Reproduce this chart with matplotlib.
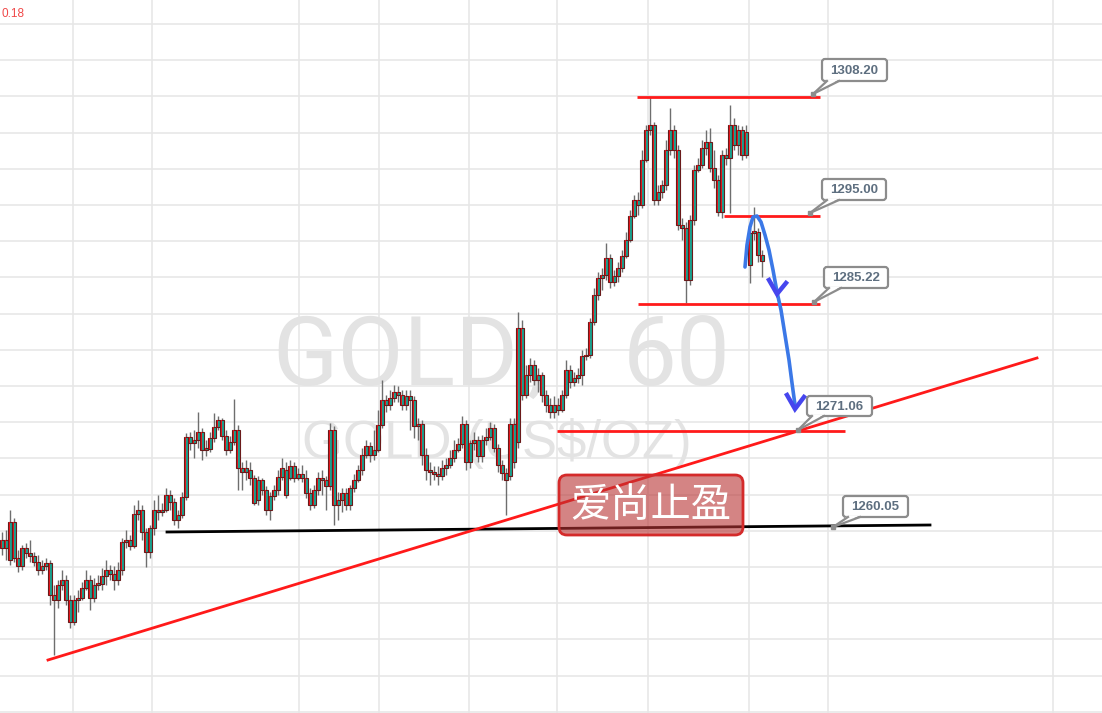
import matplotlib
matplotlib.use('Agg')
import matplotlib.pyplot as plt
from matplotlib.patches import FancyBboxPatch, Polygon
import numpy as np

# ---------------- data (GOLD, 60 min candles) ----------------
opens = [
    1259.0, 1258.1, 1256.8, 1261.0, 1257.0, 1256.1, 1258.1, 1257.6, 1257.2, 1256.6,
    1255.7, 1256.1, 1256.4, 1252.9, 1252.3, 1254.0, 1254.6, 1252.3, 1249.9, 1252.3,
    1252.6, 1253.7, 1254.6, 1252.6, 1254.0, 1254.1, 1255.0, 1255.7, 1255.2, 1254.6,
    1255.7, 1258.8, 1259.0, 1258.3, 1261.9, 1262.3, 1259.9, 1257.7, 1260.3, 1262.3,
    1262.1, 1262.3, 1264.0, 1263.2, 1261.2, 1261.8, 1263.8, 1270.4, 1269.8, 1270.1,
    1271.0, 1269.0, 1269.1, 1270.3, 1271.6, 1272.3, 1270.6, 1269.0, 1269.9, 1271.2,
    1267.0, 1266.6, 1266.8, 1265.9, 1263.4, 1265.7, 1264.6, 1262.3, 1263.9, 1264.6,
    1266.0, 1266.8, 1265.9, 1267.2, 1265.9, 1266.3, 1265.9, 1264.2, 1262.9, 1264.6,
    1265.9, 1265.7, 1265.0, 1271.2, 1262.9, 1263.4, 1264.2, 1262.9, 1264.8, 1265.7,
    1266.8, 1268.4, 1269.4, 1268.4, 1269.0, 1271.8, 1274.6, 1274.0, 1274.8, 1275.4,
    1275.1, 1274.0, 1275.0, 1274.6, 1271.7, 1271.9, 1268.4, 1266.8, 1266.6, 1266.3,
    1266.1, 1267.0, 1267.3, 1268.1, 1269.0, 1269.7, 1271.9, 1267.7, 1269.8, 1270.1,
    1268.3, 1270.1, 1270.4, 1271.4, 1269.2, 1267.3, 1266.4, 1266.1, 1271.9, 1269.9,
    1282.6, 1275.1, 1277.3, 1278.4, 1276.8, 1277.3, 1275.1, 1274.0, 1273.2, 1274.0,
    1273.4, 1275.1, 1277.9, 1276.6, 1277.0, 1277.3, 1279.4, 1279.6, 1283.2, 1286.2,
    1288.1, 1288.4, 1290.3, 1287.7, 1288.3, 1289.2, 1290.6, 1292.3, 1295.0, 1296.8,
    1296.2, 1301.2, 1304.6, 1305.1, 1296.8, 1297.7, 1298.4, 1302.3, 1304.6, 1302.3,
    1294.0, 1293.7, 1287.9, 1294.6, 1300.1, 1300.7, 1302.6, 1303.2, 1300.3, 1299.0,
    1295.4, 1301.8, 1301.4, 1305.1, 1302.9, 1304.6, 1301.8, 1289.6, 1293.1, 1293.2, 1290.7,
]
highs = [
    1259.9, 1260.1, 1262.3, 1261.4, 1257.9, 1258.4, 1258.7, 1259.0, 1257.7, 1257.3,
    1256.8, 1257.0, 1256.8, 1254.0, 1254.6, 1255.7, 1255.1, 1252.9, 1252.9, 1253.4,
    1254.3, 1255.7, 1255.1, 1254.8, 1255.1, 1255.9, 1256.8, 1256.2, 1256.1, 1256.6,
    1259.2, 1260.1, 1259.6, 1262.9, 1263.4, 1262.9, 1260.3, 1260.7, 1263.4, 1264.0,
    1263.1, 1264.8, 1264.6, 1263.7, 1262.3, 1264.3, 1270.9, 1271.0, 1271.2, 1273.2,
    1271.4, 1270.1, 1271.0, 1273.1, 1272.8, 1272.6, 1271.2, 1270.6, 1274.7, 1271.8,
    1267.7, 1267.9, 1267.7, 1266.2, 1266.1, 1265.9, 1265.0, 1264.3, 1265.1, 1266.8,
    1268.1, 1267.7, 1267.9, 1267.7, 1267.0, 1267.3, 1266.8, 1264.8, 1265.1, 1266.6,
    1266.8, 1266.1, 1272.0, 1271.7, 1264.3, 1264.8, 1264.8, 1265.1, 1266.3, 1267.3,
    1269.2, 1270.1, 1269.9, 1271.2, 1273.4, 1276.8, 1275.1, 1275.7, 1276.2, 1276.1,
    1275.7, 1275.7, 1275.7, 1275.0, 1272.6, 1272.3, 1269.2, 1267.7, 1267.2, 1267.2,
    1267.9, 1268.1, 1269.0, 1270.1, 1270.3, 1272.8, 1272.3, 1270.1, 1271.0, 1270.6,
    1270.7, 1271.4, 1272.1, 1271.9, 1269.7, 1267.9, 1267.0, 1272.6, 1272.6, 1284.3,
    1283.4, 1278.4, 1279.2, 1279.0, 1278.1, 1277.7, 1275.7, 1274.8, 1275.0, 1274.8,
    1275.7, 1279.0, 1278.4, 1277.7, 1278.1, 1280.1, 1280.3, 1283.7, 1287.0, 1288.8,
    1289.2, 1292.0, 1290.8, 1289.0, 1289.9, 1291.2, 1293.2, 1295.7, 1297.3, 1297.7,
    1302.3, 1305.1, 1308.2, 1305.4, 1298.4, 1299.0, 1303.4, 1307.0, 1305.1, 1302.9,
    1294.8, 1294.3, 1295.1, 1300.7, 1301.4, 1303.4, 1304.6, 1304.8, 1302.3, 1299.6,
    1302.3, 1302.6, 1307.3, 1305.9, 1305.1, 1305.0, 1305.1, 1293.7, 1296.0, 1293.7, 1291.2,
]
lows = [
    1257.3, 1256.8, 1256.2, 1256.6, 1255.4, 1255.7, 1257.0, 1256.6, 1256.1, 1255.1,
    1255.2, 1255.7, 1251.8, 1246.2, 1251.4, 1253.4, 1251.8, 1249.2, 1249.6, 1251.0,
    1252.3, 1253.4, 1251.2, 1252.1, 1253.4, 1253.4, 1254.0, 1254.6, 1253.4, 1254.0,
    1255.1, 1258.1, 1257.9, 1258.1, 1261.2, 1259.0, 1256.0, 1257.0, 1259.6, 1261.2,
    1261.7, 1262.1, 1262.3, 1260.7, 1260.3, 1261.4, 1263.4, 1269.0, 1268.1, 1269.2,
    1267.9, 1268.3, 1268.8, 1269.9, 1271.2, 1270.1, 1268.4, 1268.7, 1269.6, 1264.6,
    1264.6, 1265.7, 1265.1, 1262.9, 1262.9, 1264.0, 1261.8, 1261.2, 1263.4, 1264.0,
    1265.7, 1263.7, 1265.7, 1265.4, 1265.7, 1265.4, 1263.7, 1262.3, 1262.6, 1264.0,
    1264.0, 1262.3, 1264.6, 1260.7, 1261.2, 1262.1, 1262.3, 1262.3, 1264.3, 1265.4,
    1266.2, 1268.1, 1267.7, 1267.9, 1268.8, 1271.4, 1273.2, 1273.4, 1274.3, 1274.3,
    1273.4, 1273.4, 1271.2, 1270.3, 1270.1, 1267.3, 1265.7, 1265.1, 1265.7, 1265.1,
    1265.7, 1266.2, 1267.0, 1267.7, 1268.8, 1269.2, 1266.8, 1267.0, 1269.0, 1267.7,
    1267.7, 1269.6, 1270.1, 1268.8, 1266.6, 1265.7, 1261.8, 1265.7, 1267.0, 1269.2,
    1274.6, 1274.8, 1276.6, 1276.2, 1275.4, 1274.3, 1273.2, 1272.6, 1272.6, 1272.9,
    1273.2, 1274.8, 1275.9, 1276.1, 1276.4, 1276.2, 1279.0, 1279.2, 1282.9, 1285.7,
    1286.8, 1287.9, 1287.0, 1287.2, 1287.7, 1288.8, 1290.3, 1292.1, 1294.8, 1295.1,
    1295.9, 1301.0, 1304.0, 1296.2, 1296.2, 1297.0, 1297.9, 1301.8, 1301.4, 1293.4,
    1292.3, 1285.3, 1287.3, 1294.0, 1299.9, 1300.3, 1301.8, 1299.9, 1298.1, 1295.0,
    1294.8, 1300.7, 1295.3, 1302.3, 1301.8, 1301.2, 1301.4, 1287.6, 1292.3, 1289.9, 1288.2,
]
closes = [
    1258.1, 1259.0, 1261.0, 1257.0, 1256.1, 1258.1, 1257.6, 1257.2, 1256.6, 1255.7,
    1256.1, 1256.4, 1252.9, 1252.3, 1254.0, 1254.6, 1252.3, 1249.9, 1252.3, 1252.6,
    1253.7, 1254.6, 1252.6, 1254.0, 1254.1, 1255.0, 1255.7, 1255.2, 1254.6, 1255.7,
    1258.8, 1259.0, 1258.3, 1261.9, 1262.3, 1259.9, 1257.7, 1260.3, 1262.3, 1262.1,
    1262.3, 1264.0, 1263.2, 1261.2, 1261.8, 1263.8, 1270.4, 1269.8, 1270.1, 1271.0,
    1269.0, 1269.1, 1270.3, 1271.6, 1272.3, 1270.6, 1269.0, 1269.9, 1271.2, 1267.0,
    1266.6, 1267.0, 1265.9, 1263.1, 1265.7, 1264.6, 1262.3, 1263.9, 1264.6, 1266.0,
    1267.0, 1264.0, 1267.2, 1265.9, 1266.3, 1265.9, 1264.2, 1262.9, 1264.6, 1265.9,
    1265.7, 1265.0, 1271.2, 1262.9, 1263.4, 1264.2, 1262.9, 1264.8, 1265.7, 1266.8,
    1268.4, 1269.4, 1268.4, 1269.0, 1271.8, 1274.6, 1274.0, 1274.8, 1275.4, 1275.1,
    1274.0, 1275.0, 1274.6, 1271.7, 1271.9, 1268.4, 1266.8, 1266.6, 1266.3, 1266.1,
    1267.0, 1267.3, 1268.1, 1269.0, 1269.7, 1271.9, 1267.7, 1269.8, 1270.1, 1268.3,
    1270.1, 1270.4, 1271.4, 1269.2, 1267.3, 1266.4, 1265.7, 1271.9, 1267.7, 1282.6,
    1275.1, 1277.3, 1278.4, 1276.8, 1277.3, 1275.1, 1274.0, 1273.2, 1274.0, 1273.4,
    1275.1, 1277.9, 1276.6, 1277.0, 1277.3, 1279.4, 1279.6, 1283.2, 1286.2, 1288.1,
    1288.4, 1290.3, 1287.7, 1288.3, 1289.2, 1290.6, 1292.3, 1295.0, 1296.8, 1296.2,
    1301.2, 1304.6, 1305.1, 1296.8, 1297.7, 1298.4, 1302.3, 1304.6, 1302.3, 1294.0,
    1293.7, 1287.9, 1294.6, 1300.1, 1300.7, 1302.6, 1303.2, 1300.3, 1299.0, 1295.4,
    1301.8, 1301.4, 1305.1, 1302.9, 1304.6, 1301.8, 1304.3, 1293.1, 1293.2, 1290.7, 1290.0,
]

level_values = [1308.20, 1295.00, 1285.22, 1271.06, 1260.05]
level_labels = ["1308.20", "1295.00", "1285.22", "1271.06", "1260.05"]
watermark_symbol = "GOLD"
watermark_interval = "60"
watermark_sub = "GOLD (US$/OZ)"
note_text = "爱尚止盈"
corner_text = "0.18"

# ---------------- layout ----------------
W, H = 1102, 713
PX_PER_BAR = 4.0
PX_PER_USD = 9.0
X0 = -0.5
YTOP = 1319.0

fig = plt.figure(figsize=(W / 100, H / 100), dpi=100)
fig.patch.set_facecolor('white')
ax = fig.add_axes([0, 0, 1, 1])
ax.set_xlim(X0, X0 + W / PX_PER_BAR)
ax.set_ylim(YTOP - H / PX_PER_USD, YTOP)
ax.axis('off')

# pixel-space overlay for drawing tools / annotations
ov = fig.add_axes([0, 0, 1, 1], facecolor='none')
ov.set_xlim(0, W)
ov.set_ylim(H, 0)
ov.axis('off')


def dx(px):
    return X0 + px / PX_PER_BAR


def dy(py):
    return YTOP - py / PX_PER_USD


# grid
for k in range(20):
    ax.axhline(dy(24 + 36.2 * k), color='#e6e6e6', lw=1.1, zorder=0)
for gx in [73, 152, 299, 379, 469, 557, 648, 749, 828, 1053]:
    ax.axvline(dx(gx), color='#e6e6e6', lw=1.1, zorder=0)

# watermark (drawn on main axes, behind the candles)
wm = dict(color='#e3e3e3', zorder=1, transform=ov.transData)
ax.text(272, 385, watermark_symbol, ha='left', va='baseline', fontsize=69,
        family='Roboto', **wm)
ax.text(731, 385, watermark_interval, ha='right', va='baseline', fontsize=69,
        family='Roboto', **wm)
ax.text(527, 385, ",", ha='left', va='baseline', fontsize=69,
        family='Roboto', **wm)
ax.text(497, 458, watermark_sub, ha='center', va='baseline', fontsize=38,
        family='Liberation Sans', **wm)
ov.set_zorder(ax.get_zorder() + 1)

# candles
idx = np.arange(len(closes))
o = np.array(opens)
c = np.array(closes)
hi = np.array(highs)
lo = np.array(lows)
ax.vlines(idx, lo, hi, color='#6e6e6e', lw=1.0, zorder=3)
bottoms = np.minimum(o, c)
heights = np.maximum(np.abs(c - o), 0.2)
ax.bar(idx, heights, bottom=bottoms, width=0.82, color='#1aa08e',
       edgecolor='#6a1a1a', linewidth=0.8, zorder=4)
ax.bar(idx - 0.14, heights, bottom=bottoms, width=0.4, color='#e0141a',
       linewidth=0, zorder=4.5)

# horizontal level lines (red) and support (black)
ax.hlines(level_values[0], dx(637), dx(820), color='#ff1a1a', lw=2, zorder=5)
ax.hlines(level_values[1], dx(724), dx(820), color='#ff1a1a', lw=2, zorder=5)
ax.hlines(level_values[2], dx(638), dx(820), color='#ff1a1a', lw=2, zorder=5)
ax.hlines(level_values[3], dx(557), dx(845), color='#ff1a1a', lw=2, zorder=5)
ax.plot([dx(167), dx(930)], [dy(532), dy(525)], color='black', lw=2, zorder=5)
# rising trend line
ax.plot([dx(48), dx(1037)], [dy(660), dy(358)], color='#ff1a1a', lw=2, zorder=5)

# blue projected path
curve_x = [745, 747, 750, 753, 757, 761, 765, 769, 773, 777, 781, 785, 789, 792, 795]
curve_y = [267, 245, 227, 217, 216, 222, 235, 250, 270, 292, 310, 335, 360, 383, 405]
ov.plot(curve_x, curve_y, color='#3b78e7', lw=2.6, solid_capstyle='round', zorder=6)
ov.plot([769, 777, 786], [280, 294, 283], color='#4646ee', lw=3.2, zorder=6,
        solid_joinstyle='miter')
ov.plot([787, 795, 804], [395, 409, 397], color='#4646ee', lw=3.2, zorder=6,
        solid_joinstyle='miter')

# callouts
callouts = [
    ((813, 94), (822, 59, 887, 81)),
    ((810, 213), (822, 179, 886, 200)),
    ((814, 302), (824, 267, 888, 288)),
    ((798, 430), (807, 396, 872, 416)),
    ((833, 527), (843, 496, 908, 517)),
]
for (anchor, box), label in zip(callouts, level_labels):
    axp, ayp = anchor
    l, t, r, b = box
    bb = FancyBboxPatch((l, t), r - l, b - t,
                        boxstyle='round,pad=0,rounding_size=3',
                        facecolor='white', edgecolor='#8c8c8c', lw=1.6, zorder=7)
    ov.add_patch(bb)
    tail = Polygon([(axp, ayp), (l + 5, b - 1.5), (l + 17, b - 1.5)],
                   closed=True, facecolor='white', edgecolor='none', zorder=8)
    ov.add_patch(tail)
    ov.plot([axp, l + 5], [ayp, b], color='#8c8c8c', lw=1.6, zorder=9)
    ov.plot([axp, l + 17], [ayp, b], color='#8c8c8c', lw=1.6, zorder=9)
    ov.plot([axp], [ayp], marker='s', ms=3, color='#8c8c8c', zorder=9)
    ov.text((l + r) / 2, (t + b) / 2 + 0.5, label, ha='center', va='center',
            fontsize=9.5, fontweight='bold', color='#5e6f80',
            family='Liberation Sans', zorder=10)

# red note box
note = FancyBboxPatch((559, 475), 184, 60,
                      boxstyle='round,pad=0,rounding_size=8',
                      facecolor=(0.72, 0.2, 0.2, 0.6), edgecolor='#d42a2a',
                      lw=2, zorder=7)
ov.add_patch(note)
ov.text(651, 506, note_text, ha='center', va='center', fontsize=29,
        color='white', family=['Noto Sans CJK SC', 'DejaVu Sans'], zorder=8)

# corner price text
ov.text(1, 14, corner_text, ha='left', va='center', fontsize=8.5,
        color='#f04848', family='Liberation Sans', zorder=8)

fig.savefig('out.png', dpi=100, facecolor='white')
